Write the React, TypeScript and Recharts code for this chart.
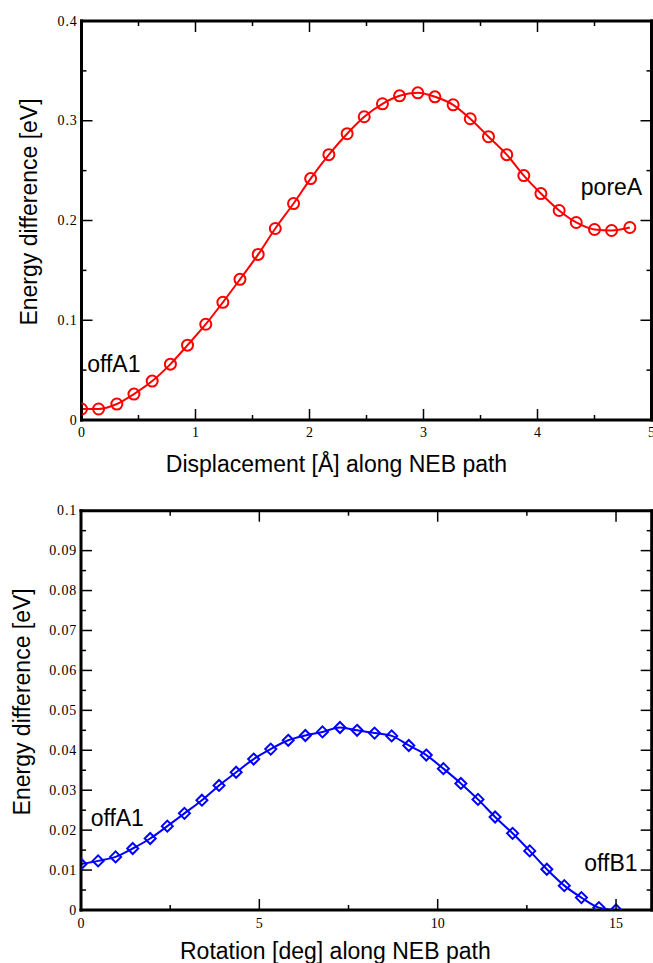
import React from 'react';
import { LineChart, Line, XAxis, YAxis, ReferenceDot } from 'recharts';

// ---------- data: top panel (displacement) ----------
const dispX = [0, 0.15, 0.31, 0.46, 0.62, 0.78, 0.93, 1.09, 1.24, 1.39, 1.55, 1.70, 1.86, 2.01, 2.17, 2.33,
  2.48, 2.64, 2.79, 2.95, 3.10, 3.26, 3.41, 3.57, 3.73, 3.88, 4.03, 4.19, 4.34, 4.50, 4.65, 4.81];
const dispEnergy = [0.011, 0.011, 0.016, 0.026, 0.039, 0.056, 0.075, 0.096, 0.118, 0.141, 0.166, 0.192, 0.217, 0.242, 0.266, 0.287,
  0.304, 0.317, 0.325, 0.328, 0.324, 0.316, 0.302, 0.284, 0.266, 0.245, 0.227, 0.210, 0.198, 0.191, 0.190, 0.193];

// ---------- data: bottom panel (rotation) ----------
const rotX = [0, 0.48, 0.97, 1.45, 1.94, 2.42, 2.90, 3.39, 3.87, 4.35, 4.84, 5.32, 5.81, 6.29, 6.77, 7.26,
  7.74, 8.23, 8.71, 9.19, 9.68, 10.16, 10.65, 11.13, 11.61, 12.10, 12.58, 13.06, 13.55, 14.03, 14.52, 15.0];
const rotEnergy = [0.0115, 0.0123, 0.0133, 0.0154, 0.0179, 0.0210, 0.0242, 0.0275, 0.0312, 0.0345, 0.0378, 0.0403, 0.0425, 0.0437, 0.0446, 0.0457,
  0.0450, 0.0443, 0.0436, 0.0412, 0.0388, 0.0354, 0.0317, 0.0277, 0.0233, 0.0192, 0.0148, 0.0102, 0.0061, 0.0031, 0.0006, 0.0];

// ---------- ticks ----------
const topXMajor = [0, 1, 2, 3, 4, 5];
const topXMajorLabels = ['0', '1', '2', '3', '4', '5'];
const topXMinor = [0.5, 1.5, 2.5, 3.5, 4.5];
const topYMajor = [0, 0.1, 0.2, 0.3, 0.4];
const topYMajorLabels = ['0', '0.1', '0.2', '0.3', '0.4'];
const topYMinor = [0.05, 0.15, 0.25, 0.35];

const botXMajor = [0, 5, 10, 15];
const botXMajorLabels = ['0', '5', '10', '15'];
const botXMinor = [2.5, 7.5, 12.5];
const botYMajor = [0, 0.01, 0.02, 0.03, 0.04, 0.05, 0.06, 0.07, 0.08, 0.09, 0.1];
const botYMajorLabels = ['0', '0.01', '0.02', '0.03', '0.04', '0.05', '0.06', '0.07', '0.08', '0.09', '0.1'];
const botYMinor = [0.005, 0.015, 0.025, 0.035, 0.045, 0.055, 0.065, 0.075, 0.085, 0.095];

// ---------- text ----------
const topXLabel = 'Displacement [Å] along NEB path';
const botXLabel = 'Rotation [deg] along NEB path';
const yLabel = 'Energy difference [eV]';
const topAnnX = [0.05, 4.38];
const topAnnY = [0.048, 0.226];
const topAnnText = ['offA1', 'poreA'];
const botAnnX = [0.27, 14.11];
const botAnnY = [0.021, 0.0098];
const botAnnText = ['offA1', 'offB1'];

const SANS = '"Liberation Sans", Arial, Helvetica, sans-serif';
const SERIF = '"Liberation Serif", "Times New Roman", serif';

const topData = dispX.map((x, i) => ({ x, e: dispEnergy[i] }));
const botData = rotX.map((x, i) => ({ x, e: rotEnergy[i] }));

type Orient = 'bottom' | 'top' | 'left' | 'right';

function makeTick(orient: Orient, majors: number[], labels: string[] | null, gap: number) {
  return (props: any) => {
    const { x, y, payload } = props;
    const v = Number(payload.value);
    const idx = majors.findIndex((m) => Math.abs(m - v) < 1e-9);
    const major = idx >= 0;
    const len = major ? 11 : 5;
    const ls = { stroke: '#000', strokeWidth: 1.5 };
    let line: any = null;
    let text: any = null;
    if (orient === 'bottom') {
      line = <line x1={x} y1={y} x2={x} y2={y - len} {...ls} />;
      if (labels && major)
        text = (
          <text x={x} y={y + gap} textAnchor="middle" fontFamily={SERIF} fontSize={14} fill="#000">
            {labels[idx]}
          </text>
        );
    } else if (orient === 'top') {
      line = <line x1={x} y1={y} x2={x} y2={y + len} {...ls} />;
    } else if (orient === 'left') {
      line = <line x1={x} y1={y} x2={x + len} y2={y} {...ls} />;
      if (labels && major)
        text = (
          <text x={x - gap} y={y + 4.5} textAnchor="end" fontFamily={SERIF} fontSize={14} letterSpacing={0.8} fill="#000">
            {labels[idx]}
          </text>
        );
    } else {
      line = <line x1={x} y1={y} x2={x - len} y2={y} {...ls} />;
    }
    return (
      <g>
        {line}
        {text}
      </g>
    );
  };
}

const axisLineStyle = { stroke: '#000', strokeWidth: 3, strokeLinecap: 'square' as const };

function Diamond(props: any) {
  const { cx, cy } = props;
  if (cx == null || cy == null) return <g />;
  const s = 5.5;
  return (
    <polygon
      points={`${cx},${cy - s} ${cx + s},${cy} ${cx},${cy + s} ${cx - s},${cy}`}
      fill="none"
      stroke="#0000ff"
      strokeWidth={2}
    />
  );
}

function annLabel(text: string) {
  return (p: any) => {
    const vb = p.viewBox || {};
    const cx = (vb.x ?? 0) + (vb.width ?? 0) / 2;
    const cy = (vb.y ?? 0) + (vb.height ?? 0) / 2;
    return (
      <text x={cx} y={cy} fontFamily={SANS} fontSize={23} fill="#000">
        {text}
      </text>
    );
  };
}

function xAxisLabel(text: string, dx: number, dy: number) {
  return (p: any) => {
    const vb = p.viewBox || {};
    return (
      <text x={vb.x + vb.width / 2 + dx} y={vb.y + dy} textAnchor="middle" fontFamily={SANS} fontSize={23} fill="#000">
        {text}
      </text>
    );
  };
}

function yAxisLabel(text: string, bx: number, dy: number) {
  return (p: any) => {
    const vb = p.viewBox || {};
    const x = vb.x + vb.width - bx;
    const y = vb.y + vb.height / 2 + dy;
    return (
      <text x={x} y={y} transform={`rotate(-90, ${x}, ${y})`} textAnchor="middle" fontFamily={SANS} fontSize={23} fill="#000">
        {text}
      </text>
    );
  };
}

export default function App() {
  return (
    <div style={{ position: 'absolute', left: 0, top: 0, width: 653, height: 963, background: '#fff' }}>
      <div style={{ position: 'absolute', left: 0, top: 0 }}>
        <LineChart width={653} height={480} data={topData} margin={{ top: 20, right: 0.5, bottom: 30, left: 41.5 }}>
          <XAxis
            xAxisId={0}
            dataKey="x"
            type="number"
            domain={[0, 5]}
            allowDataOverflow
            ticks={[...topXMajor, ...topXMinor]}
            interval={0}
            tickSize={0}
            tickMargin={0}
            tickLine={false}
            axisLine={axisLineStyle}
            height={30}
            tick={makeTick('bottom', topXMajor, topXMajorLabels, 17)}
            label={xAxisLabel(topXLabel, -30, 52)}
          />
          <XAxis
            xAxisId="top"
            orientation="top"
            dataKey="x"
            type="number"
            domain={[0, 5]}
            allowDataOverflow
            ticks={[...topXMajor, ...topXMinor]}
            interval={0}
            tickSize={0}
            tickMargin={0}
            tickLine={false}
            axisLine={axisLineStyle}
            height={1}
            tick={makeTick('top', topXMajor, null, 0)}
          />
          <YAxis
            yAxisId={0}
            type="number"
            domain={[0, 0.4]}
            allowDataOverflow
            ticks={[...topYMajor, ...topYMinor]}
            interval={0}
            tickSize={0}
            tickMargin={0}
            tickLine={false}
            axisLine={axisLineStyle}
            width={40}
            tick={makeTick('left', topYMajor, topYMajorLabels, 4)}
            label={yAxisLabel(yLabel, 44.5, -8.5)}
          />
          <YAxis
            yAxisId="right"
            orientation="right"
            type="number"
            domain={[0, 0.4]}
            allowDataOverflow
            ticks={[...topYMajor, ...topYMinor]}
            interval={0}
            tickSize={0}
            tickMargin={0}
            tickLine={false}
            axisLine={axisLineStyle}
            width={1}
            tick={makeTick('right', topYMajor, null, 0)}
          />
          <Line
            xAxisId={0}
            yAxisId={0}
            dataKey="e"
            type="monotone"
            stroke="#ff0000"
            strokeWidth={2}
            dot={{ r: 5.5, stroke: '#ff0000', strokeWidth: 2, fill: 'none' }}
            isAnimationActive={false}
          />
          {topAnnText.map((t, i) => (
            <ReferenceDot
              key={t}
              xAxisId={0}
              yAxisId={0}
              x={topAnnX[i]}
              y={topAnnY[i]}
              r={0}
              fill="none"
              stroke="none"
              label={annLabel(t)}
            />
          ))}
        </LineChart>
      </div>
      <div style={{ position: 'absolute', left: 0, top: 480 }}>
        <LineChart width={653} height={483} data={botData} margin={{ top: 29.7, right: 0.3, bottom: 23, left: 41 }}>
          <XAxis
            xAxisId={0}
            dataKey="x"
            type="number"
            domain={[0, 16]}
            allowDataOverflow
            ticks={[...botXMajor, ...botXMinor]}
            interval={0}
            tickSize={0}
            tickMargin={0}
            tickLine={false}
            axisLine={axisLineStyle}
            height={30}
            tick={makeTick('bottom', botXMajor, botXMajorLabels, 18)}
            label={xAxisLabel(botXLabel, -31, 49)}
          />
          <XAxis
            xAxisId="top"
            orientation="top"
            dataKey="x"
            type="number"
            domain={[0, 16]}
            allowDataOverflow
            ticks={[...botXMajor, ...botXMinor]}
            interval={0}
            tickSize={0}
            tickMargin={0}
            tickLine={false}
            axisLine={axisLineStyle}
            height={1}
            tick={makeTick('top', botXMajor, null, 0)}
          />
          <YAxis
            yAxisId={0}
            type="number"
            domain={[0, 0.1]}
            allowDataOverflow
            ticks={[...botYMajor, ...botYMinor]}
            interval={0}
            tickSize={0}
            tickMargin={0}
            tickLine={false}
            axisLine={axisLineStyle}
            width={40}
            tick={makeTick('left', botYMajor, botYMajorLabels, 4)}
            label={yAxisLabel(yLabel, 51, -8.5)}
          />
          <YAxis
            yAxisId="right"
            orientation="right"
            type="number"
            domain={[0, 0.1]}
            allowDataOverflow
            ticks={[...botYMajor, ...botYMinor]}
            interval={0}
            tickSize={0}
            tickMargin={0}
            tickLine={false}
            axisLine={axisLineStyle}
            width={1}
            tick={makeTick('right', botYMajor, null, 0)}
          />
          <Line
            xAxisId={0}
            yAxisId={0}
            dataKey="e"
            type="monotone"
            stroke="#0000ff"
            strokeWidth={2}
            dot={(p: any) => <Diamond key={`d-${p.index}`} {...p} />}
            isAnimationActive={false}
          />
          {botAnnText.map((t, i) => (
            <ReferenceDot
              key={t}
              xAxisId={0}
              yAxisId={0}
              x={botAnnX[i]}
              y={botAnnY[i]}
              r={0}
              fill="none"
              stroke="none"
              label={annLabel(t)}
            />
          ))}
        </LineChart>
      </div>
    </div>
  );
}
